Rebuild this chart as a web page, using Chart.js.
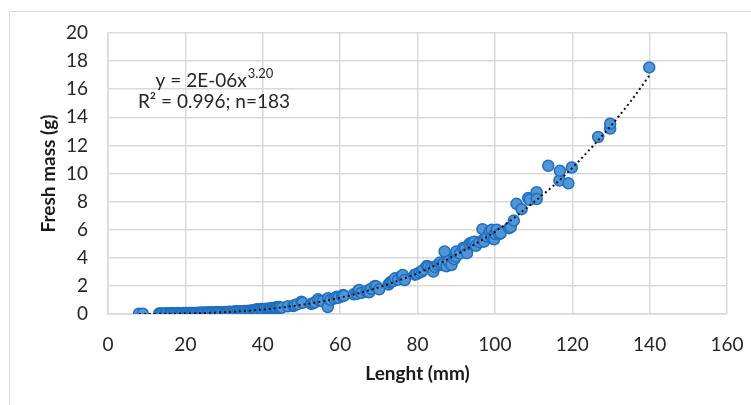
<!DOCTYPE html>
<html>
<head>
<meta charset="utf-8">
<script src="https://cdn.jsdelivr.net/npm/chart.js@4/dist/chart.umd.min.js"></script>
<style>
  body { margin: 0; background: #fff; overflow: hidden; }
  #frame { position: absolute; left: 9px; top: 11px; width: 900px; height: 500px; border: 1px solid #d9d9d9; }
  #wrap { position: absolute; left: 0; top: 0; width: 751px; height: 405px; }
</style>
</head>
<body>
<div id="frame"></div>
<div id="wrap"><canvas id="myChart" width="751" height="405"></canvas></div>
<script>
const lengthMm = [
  8.0, 9.0, 13.2, 13.6, 14.0, 14.7, 15.0, 15.3, 16.0, 16.2, 16.5, 17.0, 17.3, 17.8, 18.0, 18.5, 18.8,
  19.0, 19.2, 19.5, 20.0, 20.3, 20.6, 21.0, 21.3, 21.6, 22.0, 22.5, 22.8, 23.3, 23.8, 24.0, 24.2, 24.5,
  25.0, 25.5, 25.9, 26.0, 26.5, 27.0, 27.5, 28.0, 28.2, 28.5, 29.0, 29.5, 30.2, 30.5, 30.8, 31.0, 31.5,
  32.0, 32.5, 32.8, 33.0, 33.5, 34.0, 34.5, 35.0, 35.4, 36.0, 36.5, 36.8, 37.0, 37.5, 37.9, 38.0, 38.4,
  38.5, 39.0, 39.5, 39.8, 40.0, 40.5, 41.0, 41.5, 41.8, 42.0, 42.5, 43.0, 43.2, 43.5, 44.0, 44.2, 44.5,
  45.0,
  46.5, 47.9, 48.3, 49.0, 50.0, 50.3, 52.5, 53.0, 53.5, 54.3, 54.8, 55.5, 56.8, 56.9, 57.5, 58.5, 59.1,
  59.5, 60.5, 60.8, 61.0, 63.5, 64.3, 64.7, 64.9, 65.5, 66.8, 67.0, 67.5, 68.0, 69.0, 69.4, 70.1,
  72.5, 72.9, 73.2, 73.7, 74.2, 75.0, 75.9, 76.2, 76.7, 79.3, 79.8, 80.5, 81.1, 81.5, 82.4, 82.8, 83.5,
  84.1, 84.5, 85.2, 85.8, 86.2, 86.7, 87.0, 87.5, 88.0, 88.8, 89.5, 89.9, 90.0,
  91.0, 91.8, 92.3, 92.8, 93.4, 93.9, 94.3, 94.7, 95.1, 96.0, 96.8, 97.0, 97.2, 98.0, 98.7, 99.2, 99.2,
  99.8, 100.0, 100.5, 101.1, 101.5, 103.7, 104.1, 104.9, 105.6, 106.9, 108.6, 109.0, 110.8, 110.8,
  113.8, 116.7, 116.8, 119.0, 119.9, 126.7, 129.8, 129.8, 139.9
];
const massG = [
  0.02, 0.02, 0.03, 0.03, 0.03, 0.04, 0.03, 0.04, 0.05, 0.05, 0.04, 0.05, 0.06, 0.05, 0.05, 0.06, 0.05,
  0.06, 0.06, 0.07, 0.06, 0.07, 0.06, 0.07, 0.08, 0.08, 0.07, 0.08, 0.07, 0.09, 0.09, 0.08, 0.09, 0.09,
  0.10, 0.09, 0.10, 0.11, 0.11, 0.12, 0.11, 0.12, 0.12, 0.10, 0.13, 0.12, 0.14, 0.13, 0.15, 0.14, 0.16,
  0.15, 0.16, 0.17, 0.19, 0.18, 0.20, 0.19, 0.22, 0.21, 0.22, 0.24, 0.22, 0.23, 0.26, 0.25, 0.27, 0.33,
  0.28, 0.30, 0.35, 0.31, 0.32, 0.36, 0.38, 0.34, 0.39, 0.40, 0.41, 0.42, 0.44, 0.46, 0.50, 0.45, 0.47,
  0.45,
  0.55, 0.57, 0.64, 0.70, 0.88, 0.80, 0.72, 0.76, 0.83, 1.05, 0.95, 0.90, 0.50, 1.12, 1.00, 1.10, 1.23,
  1.15, 1.25, 1.35, 1.30, 1.40, 1.43, 1.66, 1.71, 1.50, 1.59, 1.66, 1.55, 1.80, 2.00, 1.95, 1.76,
  2.10, 2.23, 2.30, 2.35, 2.54, 2.45, 2.71, 2.78, 2.42, 2.80, 2.85, 2.95, 3.02, 3.14, 3.42, 3.37, 3.30,
  3.02, 3.35, 3.50, 3.66, 3.49, 3.56, 4.45, 3.40, 3.75, 3.49, 3.90, 4.09, 4.44,
  4.30, 4.70, 4.68, 4.33, 4.99, 5.08, 5.04, 5.15, 4.85, 5.10, 6.04, 5.27, 5.15, 5.50, 5.87, 5.47, 5.99,
  5.32, 5.70, 6.00, 5.68, 5.75, 6.11, 6.18, 6.65, 7.84, 7.46, 8.25, 8.13, 8.67, 8.18,
  10.55, 9.50, 10.19, 9.30, 10.43, 12.6, 13.2, 13.54, 17.55
];

// dotted power trendline, sampled along the drawn curve
const trendX = [8, 15, 20, 25, 30, 35, 40, 45, 50, 55, 60, 65, 70, 75, 80, 85, 90, 95, 100, 105, 110, 115, 120, 125, 130, 135, 140];
const trendY = [0.002, 0.014, 0.035, 0.07, 0.13, 0.21, 0.32, 0.47, 0.65, 0.88, 1.16, 1.5, 1.9, 2.37, 2.9, 3.52, 4.22, 5.0, 5.85, 6.85, 7.95, 9.1, 10.4, 11.85, 13.4, 15.1, 17.0];

const xTicks = [0, 20, 40, 60, 80, 100, 120, 140, 160];
const yTicks = [0, 2, 4, 6, 8, 10, 12, 14, 16, 18, 20];

const FONT = 'Lato, "Open Sans", sans-serif';

const equationLabel = {
  id: 'equationLabel',
  afterDraw(chart) {
    const c = chart.ctx;
    c.save();
    c.fillStyle = '#262626';
    c.textBaseline = 'alphabetic';
    const main = 'y = 2E-06x';
    const sup = '3.20';
    c.font = '19px ' + FONT;
    const w1 = c.measureText(main).width;
    c.font = '13px ' + FONT;
    const w2 = c.measureText(sup).width;
    const cx = 214;
    let x0 = cx - (w1 + w2) / 2;
    c.font = '19px ' + FONT;
    c.textAlign = 'left';
    c.fillText(main, x0, 87);
    c.font = '13px ' + FONT;
    c.fillText(sup, x0 + w1 + 1, 78);
    c.font = '19px ' + FONT;
    c.textAlign = 'center';
    c.fillText('R² = 0.996; n=183', cx, 108);
    c.restore();
  }
};

const ctx = document.getElementById('myChart');

new Chart(ctx, {
  type: 'scatter',
  data: {
    datasets: [
      {
        label: 'trend',
        type: 'line',
        data: trendX.map((x, i) => ({ x: x, y: trendY[i] })),
        borderColor: '#111',
        borderWidth: 2,
        borderDash: [2, 3],
        pointRadius: 0,
        fill: false,
        cubicInterpolationMode: 'monotone',
        order: 0
      },
      {
        label: 'fish',
        data: lengthMm.map((x, i) => ({ x: x, y: massG[i] })),
        backgroundColor: '#5195d6',
        borderColor: '#1f6fc0',
        borderWidth: 1.5,
        pointRadius: 5.5,
        order: 1
      }
    ]
  },
  options: {
    responsive: false,
    animation: false,
    layout: { padding: { top: 33, right: 24, left: 0, bottom: 0 } },
    plugins: { legend: { display: false }, tooltip: { enabled: false } },
    scales: {
      x: {
        type: 'linear',
        min: 0, max: 160,
        afterBuildTicks: (s) => { s.ticks = xTicks.map(v => ({ value: v })); },
        afterFit: (s) => { s.height = 91; s.paddingLeft = 0; s.paddingRight = 0; },
        grid: { color: '#d9d9d9', lineWidth: 1.5, drawTicks: false },
        border: { color: '#d9d9d9', width: 1.5 },
        ticks: { color: '#262626', font: { family: FONT, size: 19 }, padding: 19, maxRotation: 0 },
        title: { display: true, text: 'Lenght (mm)', color: '#1a1a1a', font: { family: FONT, size: 19, weight: 'bold' }, padding: { bottom: 20 } }
      },
      y: {
        min: 0, max: 20,
        afterBuildTicks: (s) => { s.ticks = yTicks.map(v => ({ value: v })); },
        afterFit: (s) => { s.width = 108; s.paddingTop = 0; s.paddingBottom = 0; },
        grid: { color: '#d9d9d9', lineWidth: 1.5, drawTicks: false },
        border: { color: '#d9d9d9', width: 1.5 },
        ticks: { color: '#262626', font: { family: FONT, size: 19 }, padding: 20 },
        title: { display: true, text: 'Fresh mass (g)', color: '#1a1a1a', font: { family: FONT, size: 19, weight: 'bold' }, padding: { top: 37 } }
      }
    }
  },
  plugins: [equationLabel]
});
</script>
</body>
</html>
